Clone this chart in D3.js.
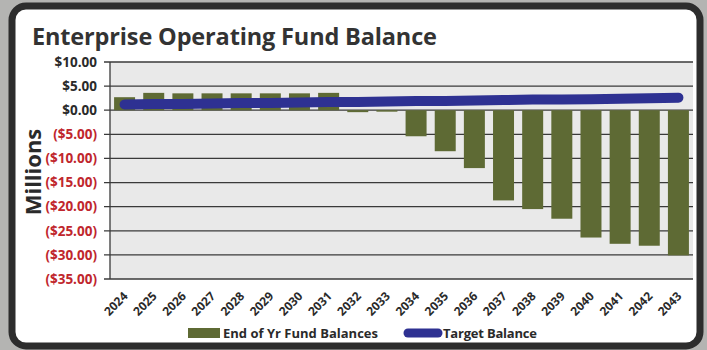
<!DOCTYPE html>
<html>
<head>
<meta charset="utf-8">
<script src="https://cdn.jsdelivr.net/npm/d3@7/dist/d3.min.js"></script>
<style>
  html, body { margin: 0; padding: 0; background: #b4b4b2; }
  svg { display: block; }
</style>
</head>
<body>
<svg id="chart" width="707" height="350"></svg>
<script>
// Fund balance by year (millions of dollars)
const years = ["2024","2025","2026","2027","2028","2029","2030","2031","2032","2033",
               "2034","2035","2036","2037","2038","2039","2040","2041","2042","2043"];
const fundBalances = [2.7, 3.6, 3.5, 3.5, 3.5, 3.5, 3.5, 3.6, -0.4, -0.3,
                      -5.4, -8.5, -12.0, -18.7, -20.5, -22.5, -26.4, -27.7, -28.1, -30.1];
const targetBalance = [1.2, 1.3, 1.3, 1.4, 1.5, 1.5, 1.6, 1.7, 1.7, 1.8,
                       1.9, 1.9, 2.0, 2.1, 2.2, 2.2, 2.3, 2.4, 2.5, 2.6];
const yTicks = [10, 5, 0, -5, -10, -15, -20, -25, -30, -35];

const svg = d3.select("#chart");

// Card with dark rounded border
svg.append("rect")
  .attr("x", 12).attr("y", 6).attr("width", 688).attr("height", 340)
  .attr("rx", 14).attr("fill", "#ffffff")
  .attr("stroke", "#2d2d2d").attr("stroke-width", 7);

svg.append("text")
  .attr("x", 32).attr("y", 45)
  .attr("font-family", "Open Sans, sans-serif")
  .attr("font-weight", 700).attr("font-size", 23.5)
  .attr("fill", "#333333")
  .attr("textLength", 405)
  .text("Enterprise Operating Fund Balance");

const plot = { left: 110, right: 693, top: 62, bottom: 279 };

const x = d3.scaleBand().domain(years)
  .range([plot.left, plot.right]).paddingInner(0.28).paddingOuter(0.14);
const y = d3.scaleLinear().domain([-35, 10]).range([plot.bottom, plot.top]);

svg.append("rect")
  .attr("x", plot.left).attr("y", plot.top)
  .attr("width", plot.right - plot.left).attr("height", plot.bottom - plot.top)
  .attr("fill", "#e9e9e9");

// Gridlines
svg.append("g").selectAll("line").data(yTicks).join("line")
  .attr("x1", plot.left - 6).attr("x2", plot.right)
  .attr("y1", d => y(d)).attr("y2", d => y(d))
  .attr("stroke", "#3a3a3a").attr("stroke-width", 1.3);

svg.append("line")
  .attr("x1", plot.left).attr("x2", plot.left)
  .attr("y1", plot.top).attr("y2", plot.bottom)
  .attr("stroke", "#3a3a3a").attr("stroke-width", 1.3);

// Y axis labels
const fmt = v => v < 0 ? "($" + Math.abs(v).toFixed(2) + ")" : "$" + v.toFixed(2);
svg.append("g").selectAll("text").data(yTicks).join("text")
  .attr("x", 97).attr("y", d => y(d)).attr("dy", "0.35em")
  .attr("text-anchor", "end")
  .attr("font-family", "Open Sans, sans-serif").attr("font-weight", 700).attr("font-size", 13.5)
  .attr("fill", d => d < 0 ? "#c0262d" : "#2a2a2a")
  .text(fmt);

svg.append("text")
  .attr("transform", "translate(41,172) rotate(-90)")
  .attr("text-anchor", "middle")
  .attr("font-family", "Open Sans, sans-serif").attr("font-weight", 700).attr("font-size", 22)
  .attr("fill", "#2a2a2a")
  .text("Millions");

// Bars
svg.append("g").selectAll("rect").data(years).join("rect")
  .attr("x", d => x(d))
  .attr("width", x.bandwidth())
  .attr("y", (d, i) => y(Math.max(0, fundBalances[i])))
  .attr("height", (d, i) => Math.abs(y(fundBalances[i]) - y(0)))
  .attr("fill", "#5e6a34");

// Target balance line
const line = d3.line()
  .x((d, i) => x(years[i]) + x.bandwidth() / 2)
  .y(d => y(d));
svg.append("path")
  .datum(targetBalance)
  .attr("d", line)
  .attr("fill", "none")
  .attr("stroke", "#2e3192")
  .attr("stroke-width", 10)
  .attr("stroke-linecap", "round");

// X axis labels
svg.append("g").selectAll("text").data(years).join("text")
  .attr("transform", d => `translate(${x(d) + x.bandwidth() / 2 + 4},${plot.bottom + 18}) rotate(-45)`)
  .attr("text-anchor", "end")
  .attr("font-family", "Open Sans, sans-serif").attr("font-weight", 700).attr("font-size", 12)
  .attr("fill", "#2a2a2a")
  .text(d => d);

// Legend
const lg = svg.append("g").attr("font-family", "Open Sans, sans-serif")
  .attr("font-weight", 700).attr("font-size", 13).attr("fill", "#2a2a2a");
lg.append("rect").attr("x", 188).attr("y", 328).attr("width", 32).attr("height", 10).attr("fill", "#5e6a34");
lg.append("text").attr("x", 223).attr("y", 338).attr("textLength", 155).text("End of Yr Fund Balances");
lg.append("line").attr("x1", 408).attr("x2", 438).attr("y1", 333).attr("y2", 333)
  .attr("stroke", "#2e3192").attr("stroke-width", 9).attr("stroke-linecap", "round");
lg.append("text").attr("x", 443).attr("y", 338).attr("textLength", 94).text("Target Balance");
</script>
</body>
</html>
